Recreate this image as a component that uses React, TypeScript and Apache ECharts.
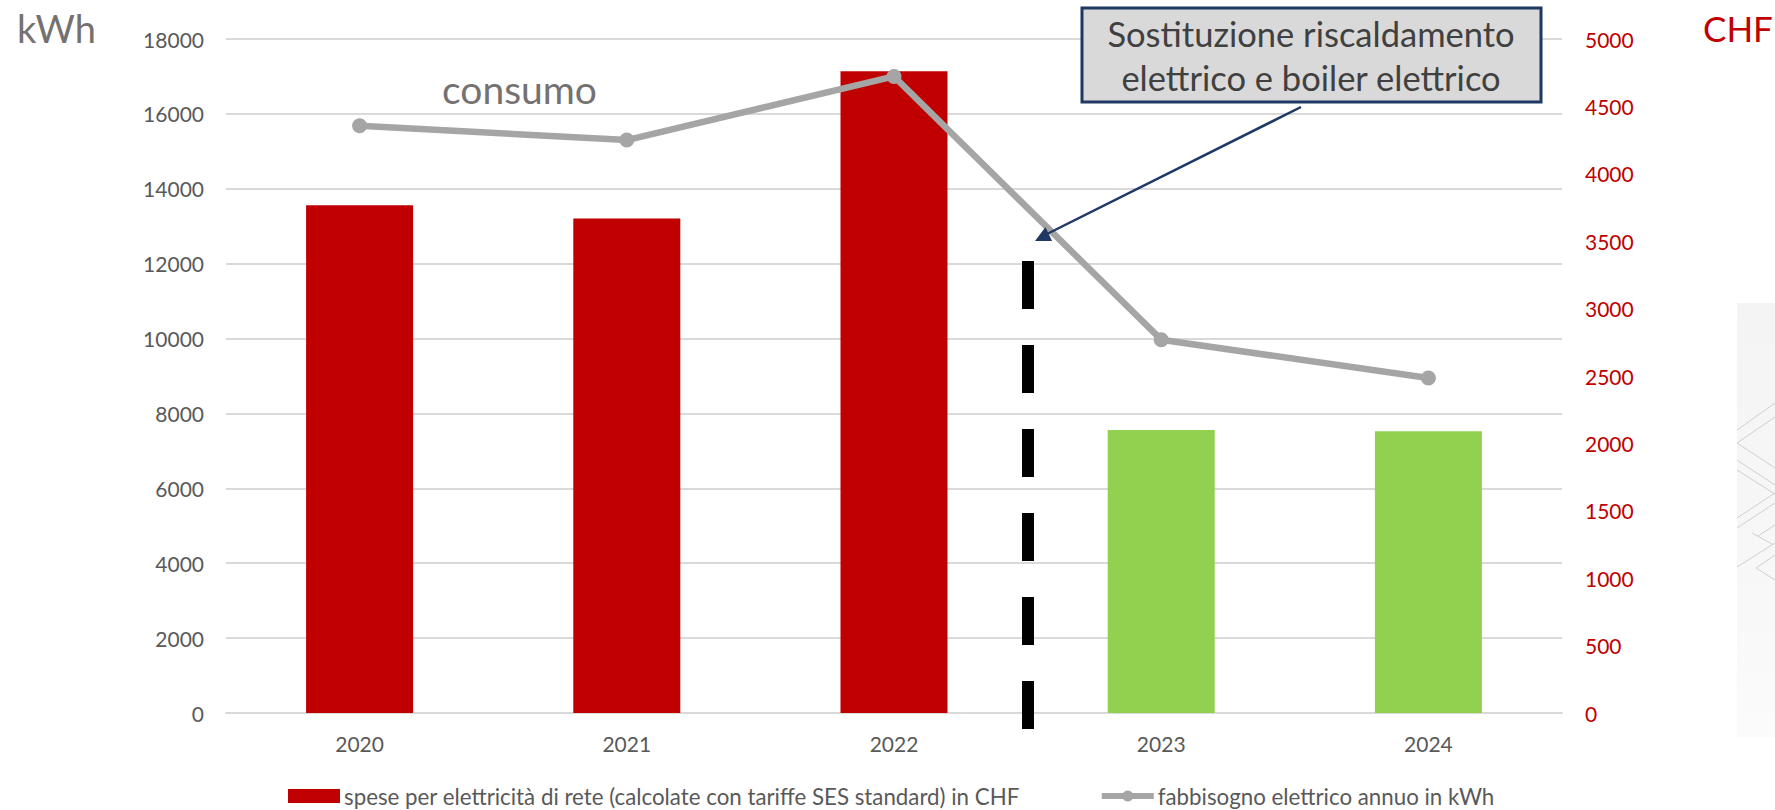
import React, { useEffect, useRef } from "react";
import * as echarts from "echarts";

const years = ["2020", "2021", "2022", "2023", "2024"];
const speseCHF = [3766, 3669, 4760, 2100, 2090];
const fabbisognoKWh = [15685, 15300, 17000, 9970, 8945];
const barColors = ["#C00000", "#C00000", "#C00000", "#92D050", "#92D050"];
const speseName = "spese per elettricità di rete (calcolate con tariffe SES standard) in CHF";
const fabbisognoName = "fabbisogno elettrico annuo in kWh";
const calloutLines = "Sostituzione riscaldamento\nelettrico e boiler elettrico";
const FONT = "Lato";

const panelLines = [
  [1737, 430, 1775, 403], [1737, 443, 1775, 417], [1737, 443, 1775, 468],
  [1737, 460, 1775, 485], [1737, 470, 1775, 494], [1737, 518, 1775, 493],
  [1737, 528, 1775, 503], [1737, 567, 1775, 543], [1756, 568, 1775, 580],
  [1756, 568, 1775, 555], [1752, 533, 1772, 544], [1758, 536, 1775, 525],
];

const plain = (v: number) => String(v);

export default function App() {
  const ref = useRef<HTMLDivElement>(null);
  useEffect(() => {
    const chart = echarts.init(ref.current!, null, { renderer: "svg" });
    chart.setOption({
      animation: false,
      backgroundColor: "#FFFFFF",
      textStyle: { fontFamily: FONT },
      grid: { left: 226, right: 213, top: 39, bottom: 97, containLabel: false },
      legend: {
        left: 283,
        top: 780,
        itemGap: 79,
        itemWidth: 52,
        itemHeight: 14,
        textStyle: { fontFamily: FONT, fontSize: 22.3, color: "#595959", padding: [0, 0, 0, -1] },
        data: [
          { name: speseName, icon: "rect", itemStyle: { color: "#C00000" } },
          { name: fabbisognoName, lineStyle: { width: 6, color: "#A5A5A5" } },
        ],
      },
      xAxis: {
        type: "category",
        data: years,
        axisTick: { show: false },
        axisLine: { lineStyle: { color: "#D9D9D9", width: 2 } },
        axisLabel: { color: "#595959", fontSize: 21, margin: 20, fontFamily: FONT },
      },
      yAxis: [
        {
          type: "value",
          position: "left",
          min: 0,
          max: 18000,
          interval: 2000,
          axisLine: { show: false },
          axisTick: { show: false },
          axisLabel: { color: "#595959", fontSize: 21, margin: 22, fontFamily: FONT, formatter: plain },
          splitLine: { lineStyle: { color: "#D9D9D9", width: 2 } },
        },
        {
          type: "value",
          position: "right",
          min: 0,
          max: 5000,
          interval: 500,
          axisLine: { show: false },
          axisTick: { show: false },
          axisLabel: { color: "#C00000", fontSize: 21, margin: 23, fontFamily: FONT, formatter: plain },
          splitLine: { show: false },
        },
      ],
      series: [
        {
          name: speseName,
          type: "bar",
          yAxisIndex: 1,
          barWidth: 107,
          itemStyle: { color: "#C00000" },
          data: speseCHF.map((value, i) => ({ value, itemStyle: { color: barColors[i] } })),
        },
        {
          name: fabbisognoName,
          type: "line",
          yAxisIndex: 0,
          symbol: "circle",
          symbolSize: 15,
          lineStyle: { color: "#A5A5A5", width: 6.5 },
          itemStyle: { color: "#A5A5A5" },
          data: fabbisognoKWh,
        },
      ],
      graphic: [
        {
          type: "text",
          x: 17,
          y: 28,
          style: { text: "kWh", font: `38px ${FONT}`, fill: "#767171", verticalAlign: "middle" },
        },
        {
          type: "text",
          x: 442,
          y: 89,
          style: { text: "consumo", font: `39px ${FONT}`, fill: "#767171", verticalAlign: "middle" },
        },
        {
          type: "text",
          x: 1703,
          y: 28,
          style: { text: "CHF", font: `35px ${FONT}`, fill: "#C00000", verticalAlign: "middle" },
        },
        {
          type: "line",
          z: 20,
          shape: { x1: 1028, y1: 261, x2: 1028, y2: 729 },
          style: { stroke: "#000000", lineWidth: 12, lineDash: [48, 36] },
        },
        {
          type: "rect",
          z: 21,
          shape: { x: 1082, y: 8, width: 459, height: 94 },
          style: { fill: "#D9D9D9", stroke: "#203864", lineWidth: 3 },
        },
        {
          type: "text",
          z: 22,
          x: 1311,
          y: 55,
          style: {
            text: calloutLines,
            font: `34.5px ${FONT}`,
            lineHeight: 44,
            fill: "#404040",
            align: "center",
            verticalAlign: "middle",
          },
        },
        {
          type: "line",
          z: 22,
          shape: { x1: 1301, y1: 107, x2: 1047, y2: 234 },
          style: { stroke: "#203864", lineWidth: 2.5 },
        },
        {
          type: "polygon",
          z: 22,
          shape: { points: [[1045.5, 227], [1035, 241], [1052, 241]] },
          style: { fill: "#203864" },
        },
        {
          type: "rect",
          z: 1,
          shape: { x: 1737, y: 303, width: 38, height: 434 },
          style: {
            fill: new echarts.graphic.LinearGradient(0, 0, 0, 1, [
              { offset: 0, color: "#F4F4F4" },
              { offset: 0.6, color: "#F7F7F7" },
              { offset: 1, color: "#FBFBFB" },
            ]),
          },
        },
        ...panelLines.map(([x1, y1, x2, y2]) => ({
          type: "line",
          z: 2,
          shape: { x1, y1, x2, y2 },
          style: { stroke: "#CFCFCF", lineWidth: 1 },
        })),
      ],
    });
    return () => chart.dispose();
  }, []);
  return (
    <div
      ref={ref}
      style={{ position: "absolute", left: 0, top: 0, width: 1775, height: 810 }}
    />
  );
}
